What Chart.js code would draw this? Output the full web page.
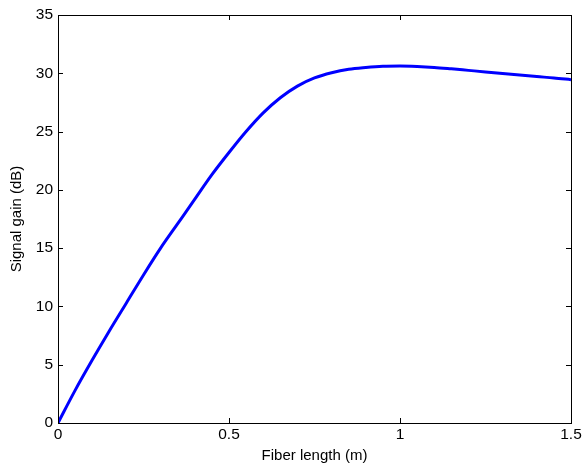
<!DOCTYPE html>
<html>
<head>
<meta charset="utf-8">
<script src="https://cdn.jsdelivr.net/npm/chart.js@4"></script>
<style>
    html, body { margin: 0; padding: 0; background: #fff; }
    #wrap { width: 584px; height: 472px; }
</style>
</head>
<body>
<div id="wrap"><canvas id="gainChart" width="584" height="472"></canvas></div>
<script>
// Datos
const fiberLength = [0, 0.05, 0.1, 0.15, 0.2, 0.25, 0.3, 0.35, 0.4, 0.45, 0.5, 0.55, 0.6, 0.65, 0.7, 0.75,
    0.8, 0.85, 0.9, 0.95, 1.0, 1.05, 1.1, 1.15, 1.2, 1.25, 1.3, 1.35, 1.4, 1.45, 1.5];
const signalGain = [0, 2.8, 5.4, 7.9, 10.3, 12.7, 15.0, 17.1, 19.2, 21.3, 23.2, 25.0, 26.6, 27.9, 28.9, 29.6,
    30.05, 30.35, 30.5, 30.6, 30.62, 30.58, 30.5, 30.38, 30.25, 30.12, 29.98, 29.85, 29.72, 29.6, 29.45];
const xTicks = [0, 0.5, 1, 1.5];
const yTicks = [0, 5, 10, 15, 20, 25, 30, 35];

const FONT = 'Liberation Sans, Arial, Helvetica, sans-serif';

// Caja del eje + marcas hacia dentro (estilo MATLAB)
const boxPlugin = {
    id: 'box',
    afterDraw(chart) {
        const { ctx, chartArea: a, scales } = chart;
        ctx.save();
        ctx.strokeStyle = '#000';
        ctx.lineWidth = 1;
        ctx.beginPath();
        xTicks.forEach(v => {
            const px = Math.round(scales.x.getPixelForValue(v)) + 0.5;
            ctx.moveTo(px, a.bottom); ctx.lineTo(px, a.bottom - 5);
            ctx.moveTo(px, a.top); ctx.lineTo(px, a.top + 5);
        });
        yTicks.forEach(v => {
            const py = Math.round(scales.y.getPixelForValue(v)) + 0.5;
            ctx.moveTo(a.left, py); ctx.lineTo(a.left + 5, py);
            ctx.moveTo(a.right, py); ctx.lineTo(a.right - 5, py);
        });
        ctx.stroke();
        ctx.strokeRect(Math.round(a.left) + 0.5, Math.round(a.top) + 0.5,
            Math.round(a.right - a.left), Math.round(a.bottom - a.top));
        ctx.restore();
    }
};

new Chart(document.getElementById('gainChart'), {
    type: 'line',
    data: {
        datasets: [{
            data: fiberLength.map((x, i) => ({ x: x, y: signalGain[i] })),
            borderColor: '#0000ff',
            borderWidth: 3,
            pointRadius: 0,
            cubicInterpolationMode: 'monotone',
            fill: false
        }]
    },
    options: {
        responsive: false,
        animation: false,
        layout: { padding: { top: 15, right: 13, left: 0, bottom: 0 } },
        plugins: { legend: { display: false }, tooltip: { enabled: false } },
        scales: {
            x: {
                type: 'linear',
                min: 0, max: 1.5,
                afterBuildTicks: s => { s.ticks = xTicks.map(v => ({ value: v })); },
                afterFit: s => { s.height = 49; },
                grid: { display: false, drawTicks: false },
                border: { display: false },
                ticks: { color: '#000', padding: 2, maxRotation: 0, callback: v => String(v), font: { family: FONT, size: 15.5 } },
                title: { display: true, text: 'Fiber length (m)', color: '#000', padding: { top: 0, bottom: 7 }, font: { family: FONT, size: 15 } }
            },
            y: {
                type: 'linear',
                min: 0, max: 35,
                afterBuildTicks: s => { s.ticks = yTicks.map(v => ({ value: v })); },
                afterFit: s => { s.width = 58; },
                grid: { display: false, drawTicks: false },
                border: { display: false },
                ticks: { color: '#000', padding: 5, callback: v => String(v), font: { family: FONT, size: 15.5 } },
                title: { display: true, text: 'Signal gain (dB)', color: '#000', padding: { top: 8, bottom: 0 }, font: { family: FONT, size: 15 } }
            }
        }
    },
    plugins: [boxPlugin]
});
</script>
</body>
</html>
